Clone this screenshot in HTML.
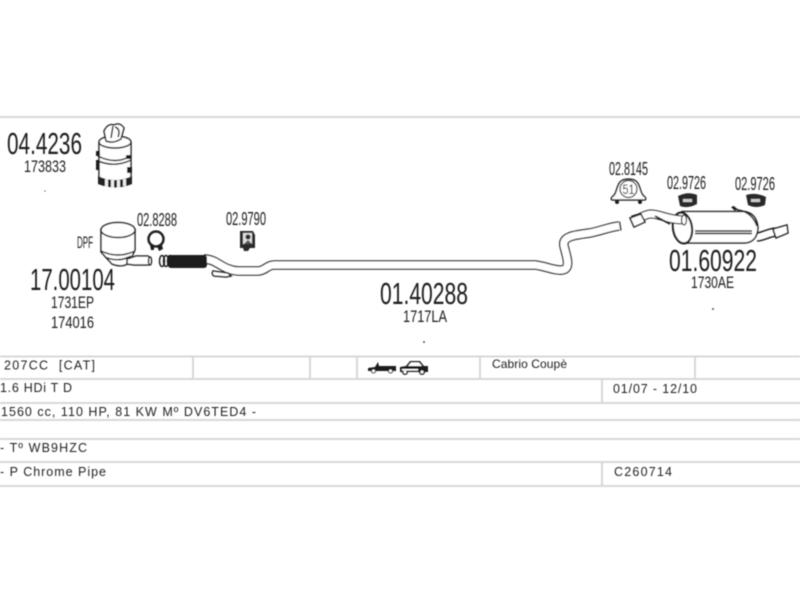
<!DOCTYPE html>
<html>
<head>
<meta charset="utf-8">
<style>
html,body{margin:0;padding:0;background:#fff}
svg{display:block}
text{font-family:"Liberation Sans",sans-serif;fill:#1c1c1c}
.g{fill:none;stroke:#222;stroke-width:1.500}
.w{fill:#fff;stroke:#222;stroke-width:1.500}
.b{fill:#1c1c1c;stroke:none}
.t{font-size:12.500px;fill:#222}
</style>
</head>
<body>
<svg width="800" height="600" viewBox="0 0 800 600" xmlns="http://www.w3.org/2000/svg">
<defs><filter id="s" x="-5%" y="-5%" width="110%" height="110%"><feGaussianBlur stdDeviation="0.45"/></filter></defs>
<rect width="800" height="600" fill="#fff"/>
<g filter="url(#s)">
<!-- frame and table lines -->
<g stroke="#d8d8d8" stroke-width="2" fill="none">
<path d="M0 117H800"/>
<path d="M0 356.500H800M0 379H800M0 403H800M0 420H800M0 439H800M0 462H800M0 486H800"/>
<path d="M193 357V379M310 357V379M357 357V379M480 357V379M695 357V379M602 379V403M602 462V486"/>
</g>

<!-- part numbers -->
<text x="7" y="154" font-size="31" textLength="75" lengthAdjust="spacingAndGlyphs">04.4236</text>
<text x="24" y="172" font-size="17" textLength="42" lengthAdjust="spacingAndGlyphs">173833</text>
<text x="30" y="290" font-size="31" textLength="85" lengthAdjust="spacingAndGlyphs">17.00104</text>
<text x="51" y="308" font-size="17" textLength="43" lengthAdjust="spacingAndGlyphs">1731EP</text>
<text x="51" y="328" font-size="17" textLength="43" lengthAdjust="spacingAndGlyphs">174016</text>
<text x="77" y="248" font-size="17" textLength="16" lengthAdjust="spacingAndGlyphs" fill="#444">DPF</text>
<text x="137" y="226" font-size="18" textLength="40" lengthAdjust="spacingAndGlyphs">02.8288</text>
<text x="226" y="225" font-size="18" textLength="40" lengthAdjust="spacingAndGlyphs">02.9790</text>
<text x="380" y="304" font-size="31" textLength="88" lengthAdjust="spacingAndGlyphs">01.40288</text>
<text x="403" y="322" font-size="17" textLength="44" lengthAdjust="spacingAndGlyphs">1717LA</text>
<text x="609" y="175" font-size="18" textLength="39" lengthAdjust="spacingAndGlyphs">02.8145</text>
<text x="667" y="189" font-size="18" textLength="39" lengthAdjust="spacingAndGlyphs">02.9726</text>
<text x="735" y="190" font-size="18" textLength="40" lengthAdjust="spacingAndGlyphs">02.9726</text>
<text x="669" y="271" font-size="31" textLength="88" lengthAdjust="spacingAndGlyphs">01.60922</text>
<text x="691" y="288" font-size="17" textLength="43" lengthAdjust="spacingAndGlyphs">1730AE</text>

<!-- specks -->
<circle cx="45" cy="191" r="0.8" fill="#777"/>
<circle cx="424" cy="342" r="1" fill="#555"/>
<circle cx="713" cy="309" r="1" fill="#555"/>

<!-- catalyst 04.4236 -->
<path class="w" d="M99 143V181Q115 190 131 181V143Z"/>
<ellipse class="w" cx="115" cy="142" rx="16" ry="6" stroke-width="2"/>
<path class="w" stroke-width="2.200" d="M106 141L104 131Q108 123 114 125Q120 122 124 128L121 139Q113 144 106 141Z"/>
<path class="g" d="M113 126L111 138M115 127Q121 129 118 137"/>
<path class="g" stroke-width="2.500" d="M98 156Q115 165 131 156M98 161Q115 168 131 160"/>
<path class="b" d="M96 151h4v5h-4zM96 160h3v10h-3zM126 155h5v4h-5zM127 167h5v6h-5z"/>
<path d="M98 176Q115 184 132 176V184Q115 191 98 184Z" fill="#222"/>
<path d="M105 179h3v8h-3zM111 180h3v8h-3zM117 180h3v8h-3zM123 179h3v7h-3z" fill="#eee"/>

<!-- DPF -->
<path class="w" d="M101 230V252L112 264Q122 268 129 263L135 250V230Z"/>
<ellipse class="w" cx="118" cy="230" rx="17" ry="7.500"/>
<path class="g" d="M101 251Q118 259 135 251"/>
<path class="g" d="M105 257Q118 263 131 256"/>
<path class="w" d="M127 259L136 256H148L150 258V264L148 265H134L127 264Z"/>
<ellipse class="w" cx="150" cy="261" rx="1.500" ry="4"/>

<!-- clamp 02.8288 -->
<circle cx="156" cy="239" r="7.500" fill="none" stroke="#222" stroke-width="2.500"/>
<path class="b" d="M150 245l4 1v4h-3zM157 246l5-1 1 4-4 2z"/>

<!-- flex section -->
<ellipse class="g" stroke-width="1.800" cx="162" cy="261" rx="2.500" ry="5.500"/>
<ellipse class="g" stroke-width="1.800" cx="166" cy="261" rx="2.500" ry="5.500"/>
<ellipse class="g" stroke-width="1.800" cx="170" cy="261" rx="2.500" ry="5.500"/>

<!-- main pipe -->
<path fill="none" stroke="#222" stroke-width="9.500" stroke-linejoin="round" d="M204 259C217 259 222 270 238 271H258C265 271 267 265 274 265H535C545 266 555 271 562 270C572 269 566 255 564 246C562 236 575 235 590 233C600 231 610 227 619 226"/>
<path fill="none" stroke="#fff" stroke-width="7" stroke-linejoin="round" d="M204 259C217 259 222 270 238 271H258C265 271 267 265 274 265H535C545 266 555 271 562 270C572 269 566 255 564 246C562 236 575 235 590 233C600 231 610 227 619 226"/>
<path fill="none" stroke="#222" stroke-width="1.200" d="M619.500 221.500L621 230.500"/>
<rect x="168" y="255" width="39" height="13" rx="3" fill="#1c1c1c"/>
<path class="w" d="M213 271L228 273L231 276L226 277L214 276Q211 274 213 271Z"/>

<!-- bracket 02.9790 -->
<path d="M240 231h13l2 4v13h-5l-2 3h-4l-1-3h-3z" fill="#2a2a2a"/>
<rect x="243" y="233" width="9" height="11" fill="#ddd"/>
<circle cx="248" cy="237" r="2.500" fill="#2a2a2a"/>
<path d="M244 244l4-4 4 4z" fill="#555"/>

<!-- clamp 02.8145 -->
<path class="w" stroke-width="2.200" d="M612 197C617 194 616 187 620 182C624 178 633 178 637 182C641 187 640 194 645 197Q647 200 644 200H613Q610 200 612 197Z"/>
<circle cx="628.500" cy="189" r="8.500" fill="#fff" stroke="#222" stroke-width="1.200"/>
<text x="622.500" y="194" font-size="14" textLength="12" lengthAdjust="spacingAndGlyphs">51</text>
<circle cx="617" cy="202" r="2" fill="#1c1c1c"/>
<circle cx="640" cy="202" r="2" fill="#1c1c1c"/>

<!-- brackets 02.9726 -->
<path d="M678 196Q688 191 697 195L697 204Q688 209 680 206Z" fill="#2a2a2a"/>
<path d="M683 199h9v3h-9z" fill="#ccc"/>
<path d="M746 195Q756 192 766 197L765 205Q756 209 748 205Z" fill="#2a2a2a"/>
<path d="M751 199h9v3h-9z" fill="#ccc"/>

<!-- rear muffler -->
<path fill="none" stroke="#222" stroke-width="1.500" d="M757 233C763 232 767 229 775 228M757 241C764 241 768 237 777 236"/>
<path class="w" d="M773 229L787 225L788 233L776 238Z"/>
<path class="w" stroke-width="1.600" d="M682 211.500H745Q757 214 758 228Q757 242 745 243H682Z"/>
<ellipse fill="#fff" stroke="#222" stroke-width="2.200" cx="682.500" cy="228" rx="9.500" ry="15.500" transform="rotate(-8 682.500 228)"/>
<path class="g" d="M695 231L752 231M695 233.500L752 233.500"/>
<path class="g" stroke-width="1.800" d="M733 207L738 210Q752 212 757 226"/>
<path class="b" d="M731 207l3-1 3 3-2 2z"/>

<!-- inlet pipe to muffler -->
<path fill="none" stroke="#222" stroke-width="9" d="M632 220C642 218 645 214 651 214C660 214 668 220 684 220"/>
<path fill="none" stroke="#fff" stroke-width="6.800" d="M632 220C642 218 645 214 651 214C660 214 668 220 684 220"/>
<path class="w" d="M630 218L641 214L645 222L634 227Z"/>
<path fill="none" stroke="#222" stroke-width="1.800" d="M655 216L670 224"/>
<ellipse cx="684" cy="220" rx="2.500" ry="5" fill="#fff" stroke="#222" stroke-width="1.200"/>

<!-- table text -->
<text class="t" x="4" y="369.500" textLength="91" xml:space="preserve">207CC  [CAT]</text>
<text class="t" x="0" y="392" textLength="72">1.6 HDi T D</text>
<text class="t" x="1" y="416" textLength="255">1560 cc, 110 HP, 81 KW Mº DV6TED4 -</text>
<text class="t" x="0" y="452" textLength="87">- Tº WB9HZC</text>
<text class="t" x="0" y="476" textLength="106">- P Chrome Pipe</text>
<text x="492" y="368" font-size="12" fill="#222" textLength="75">Cabrio Coupè</text>
<text class="t" x="613" y="393" textLength="84">01/07 - 12/10</text>
<text class="t" x="614" y="476" textLength="58">C260714</text>

<!-- car icons -->
<path class="b" d="M368 368L375 367L378 362L379 366H396L396 371H393A2.500 2.500 0 0 1 388 371H376A2.500 2.500 0 0 1 371 371H368Z"/>
<circle cx="373.500" cy="371" r="1.500" fill="#fff"/>
<circle cx="390.500" cy="371" r="1.500" fill="#fff"/>
<path class="b" d="M400 367L406 366L410 361H420L424 366H428V372H425A3 3 0 0 1 419 372H408A3 3 0 0 1 402 372H400Z"/>
<path d="M408 366L411 362.500H419L422 366ZM402 369h16v1.500h-16z" fill="#fff"/>
<circle cx="405" cy="372" r="1.500" fill="#fff"/>
<circle cx="422" cy="372" r="1.500" fill="#fff"/>
</g>
</svg>
</body>
</html>
